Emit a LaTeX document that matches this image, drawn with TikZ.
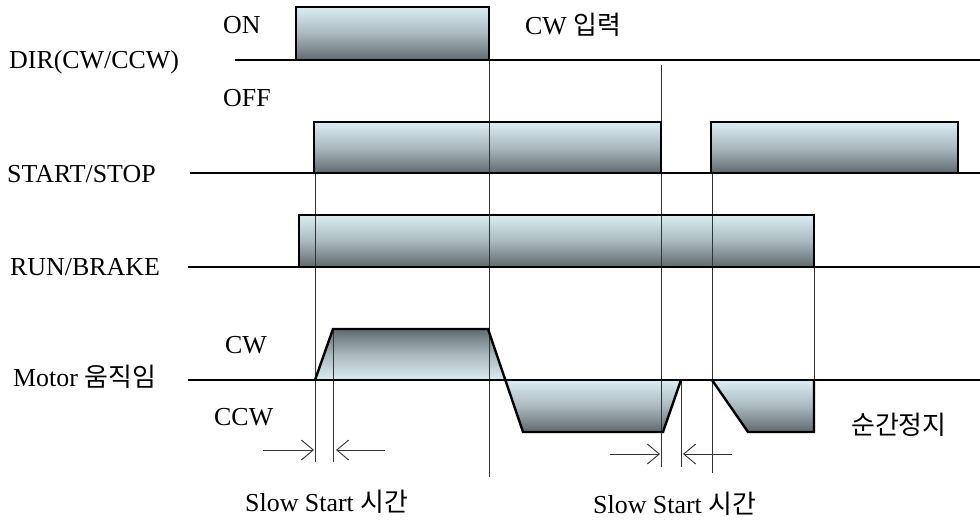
\documentclass[tikz,border=0pt]{standalone}
\usepackage{fontspec}
\setmainfont{Liberation Serif}
\newfontfamily\kr{Noto Sans CJK KR}
\usetikzlibrary{arrows.meta}
\definecolor{pulselight}{RGB}{219,237,243}
\definecolor{pulsedark}{RGB}{95,106,110}
\tikzset{
  sig/.style={line width=2.4bp,line join=miter},
  guide/.style={line width=0.9bp,black!80},
  hiup/.style={top color=pulselight,bottom color=pulsedark,middle color=pulselight!60!pulsedark},
  hidown/.style={top color=pulsedark,bottom color=pulselight,middle color=pulselight!60!pulsedark},
  lbl/.style={inner sep=0pt,anchor=base west,font=\fontsize{26}{30}\selectfont},
}
\begin{document}
\begin{tikzpicture}[>={Straight Barb[length=12bp,width=20bp]},line join=miter,]
\useasboundingbox (0bp,0bp) rectangle (980bp,521bp);
%%
\node (lbl_dir) at (9bp,452bp) [lbl] {DIR(CW/CCW)};
\node (lbl_on) at (223bp,487bp) [lbl] {ON};
\node (lbl_off) at (223bp,414bp) [lbl] {OFF};
\node (lbl_cwin) at (525bp,486bp) [lbl] {CW {\kr 입력}};
\node (lbl_start) at (7bp,338bp) [lbl] {START/STOP};
\node (lbl_run) at (10bp,245bp) [lbl] {RUN/BRAKE};
\node (lbl_motor) at (13bp,134bp) [lbl] {Motor {\kr 움직임}};
\node (lbl_cw) at (225bp,167bp) [lbl] {CW};
\node (lbl_ccw) at (214bp,95bp) [lbl] {CCW};
\node (lbl_halt) at (851bp,86bp) [lbl] {\kr 순간정지};
\node (lbl_slow1) at (245bp,10bp) [lbl] {Slow Start {\kr 시간}};
\node (lbl_slow2) at (593bp,8bp) [lbl] {Slow Start {\kr 시간}};
%
\shade [hiup] (296bp,461bp) rectangle (489bp,514bp);
\shade [hiup] (314bp,348bp) rectangle (661bp,399bp);
\shade [hiup] (711bp,348bp) rectangle (958bp,399bp);
\shade [hiup] (299bp,254bp) rectangle (814bp,306bp);
\shade [hidown] (315bp,141bp) -- (333bp,192bp) -- (488bp,192bp) -- (506bp,141bp) -- cycle;
\shade [hiup] (506bp,141bp) -- (523bp,89bp) -- (663bp,89bp) -- (681bp,141bp) -- cycle;
\shade [hiup] (712bp,141bp) -- (748bp,89bp) -- (814bp,89bp) -- (814bp,141bp) -- cycle;
%
\draw [guide] (315bp,348bp) -- (315bp,59bp);
\draw [guide] (333bp,192bp) -- (333bp,59bp);
\draw [guide] (489bp,461bp) -- (489bp,44bp);
\draw [guide] (661bp,456bp) -- (661bp,54bp);
\draw [guide] (681bp,141bp) -- (681bp,54bp);
\draw [guide] (712bp,348bp) -- (712bp,48bp);
\draw [guide] (814bp,254bp) -- (814bp,141bp);
%
\draw [sig] (235bp,461bp) -- (980bp,461bp);
\draw [sig] (296bp,461bp) -- (296bp,514bp) -- (489bp,514bp) -- (489bp,461bp);
\draw [sig] (190bp,348bp) -- (980bp,348bp);
\draw [sig] (314bp,348bp) -- (314bp,399bp) -- (661bp,399bp) -- (661bp,348bp);
\draw [sig] (711bp,348bp) -- (711bp,399bp) -- (958bp,399bp) -- (958bp,348bp);
\draw [sig] (188bp,254bp) -- (980bp,254bp);
\draw [sig] (299bp,254bp) -- (299bp,306bp) -- (814bp,306bp) -- (814bp,254bp);
\draw [sig] (188bp,141bp) -- (980bp,141bp);
\draw [sig] (315bp,141bp) -- (333bp,192bp) -- (488bp,192bp) -- (523bp,89bp) -- (663bp,89bp) -- (681bp,141bp);
\draw [sig] (712bp,141bp) -- (748bp,89bp) -- (814bp,89bp) -- (814bp,141bp);
%
\coordinate (ss1_l) at (263bp,71bp);
\coordinate (ss1_a) at (314bp,71bp);
\coordinate (ss1_b) at (336bp,71bp);
\coordinate (ss1_r) at (385bp,71bp);
\coordinate (ss2_l) at (610bp,67bp);
\coordinate (ss2_a) at (660bp,67bp);
\coordinate (ss2_b) at (683bp,67bp);
\coordinate (ss2_r) at (732bp,67bp);
\draw [guide,->] (ss1_l) -- (ss1_a);
\draw [guide,->] (ss1_r) -- (ss1_b);
\draw [guide,->] (ss2_l) -- (ss2_a);
\draw [guide,->] (ss2_r) -- (ss2_b);
%
\end{tikzpicture}
\end{document}
